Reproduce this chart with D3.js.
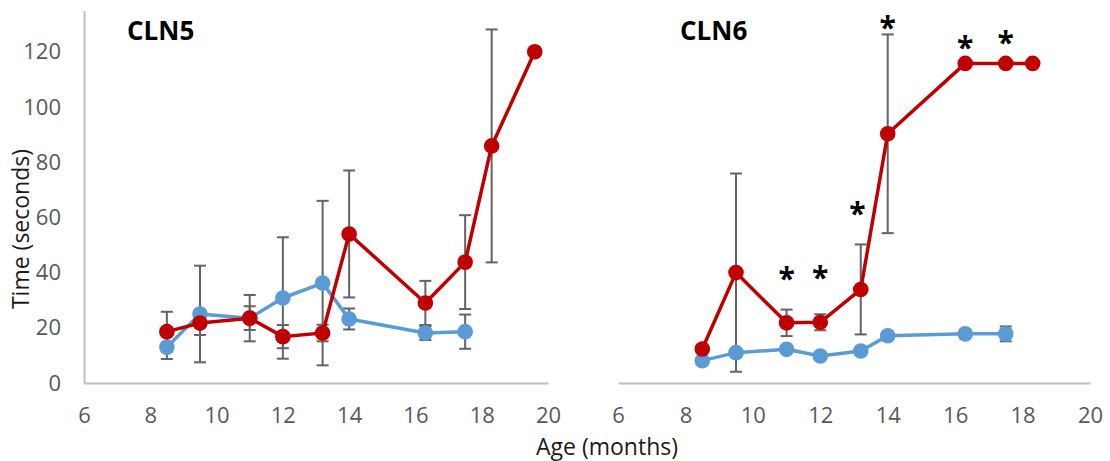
<!DOCTYPE html>
<html>
<head>
<meta charset="utf-8">
<script src="https://cdn.jsdelivr.net/npm/d3@7"></script>
<style>
  html, body { margin: 0; padding: 0; background: #fff; }
  svg { display: block; font-family: "Open Sans", sans-serif; }
</style>
</head>
<body>
<svg id="chart" width="1110" height="461"></svg>
<script>
// ---- data ----
const xTicks = [6, 8, 10, 12, 14, 16, 18, 20];
const yTicks = [0, 20, 40, 60, 80, 100, 120];

const cln5Ages      = [8.5, 9.5, 11, 12, 13.2, 14, 16.3, 17.5, 18.3, 19.6];
const cln5Control   = [13, 25, 23.5, 30.8, 36.2, 23.2, 18.1, 18.6];
const cln5ControlErr= [4.3, 17.5, 8.4, 22, 29.8, 3.8, 2.5, 6.2];
const cln5Affected  = [18.6, 21.7, 23.5, 16.8, 18.1, 54, 29, 43.8, 85.9, 120];
const cln5AffectedErr = [7.2, 4.3, 4.3, 4.2, 3, 23, 8, 17, 42.2, 0];

const cln6Ages      = [8.5, 9.5, 11, 12, 13.2, 14, 16.3, 17.5, 18.3];
const cln6Control   = [8.1, 11, 12.2, 9.8, 11.6, 17.1, 17.8, 17.8];
const cln6ControlErr= [0, 0, 0, 0, 0, 0, 0, 2.7];
const cln6Affected  = [12.3, 40, 21.8, 22, 33.9, 90.3, 115.8, 115.8, 115.8];
const cln6AffectedErr = [0, 35.9, 4.8, 2.9, 16.3, 36, 0, 0, 0];

const cln6StarAges   = [11, 12, 13.1, 14, 16.3, 17.5];
const cln6StarValues = [39.9, 40.2, 63.4, 130.9, 123.4, 125.5];

// ---- styles ----
const BLUE = "#5B9BD5", RED = "#C00000", ERR = "#636363", AXIS = "#BFBFBF", TICK = "#595959";

const svg = d3.select("#chart");
const y = d3.scaleLinear().domain([0, 135]).range([383, 10.4]);

function panel(opts) {
  const x = d3.scaleLinear().domain([6, 20]).range(opts.xRange);
  const g = svg.append("g");

  // x axis
  const xa = g.append("g").attr("transform", `translate(0,${y(0)})`)
    .call(d3.axisBottom(x).tickValues(xTicks).tickSize(0).tickSizeOuter(0).tickPadding(24));
  xa.select(".domain").attr("stroke", AXIS).attr("stroke-width", 2);
  xa.selectAll("text").attr("fill", TICK).style("font-size", "22px").style("font-family", "Open Sans");

  if (opts.yAxis) {
    const ya = g.append("g").attr("transform", `translate(${opts.xRange[0]},0)`)
      .call(d3.axisLeft(y).tickValues(yTicks).tickSize(0).tickSizeOuter(0).tickPadding(23));
    ya.select(".domain").attr("stroke", AXIS).attr("stroke-width", 2);
    ya.selectAll("text").attr("fill", TICK).style("font-size", "22px").style("font-family", "Open Sans");
  }

  const series = [
    { vals: opts.control, err: opts.controlErr, color: BLUE },
    { vals: opts.affected, err: opts.affectedErr, color: RED }
  ].map(s => ({ ...s, pts: s.vals.map((v, i) => ({ a: opts.ages[i], v, e: s.err[i] })) }));

  // error bars (behind markers)
  series.forEach(s => {
    const eb = g.append("g").attr("stroke", ERR).attr("stroke-width", 2).attr("fill", "none");
    s.pts.filter(p => p.e > 0).forEach(p => {
      const cx = x(p.a), y1 = y(p.v + p.e), y2 = y(p.v - p.e);
      eb.append("line").attr("x1", cx).attr("x2", cx).attr("y1", y1).attr("y2", y2);
      eb.append("line").attr("x1", cx - 6).attr("x2", cx + 6).attr("y1", y1).attr("y2", y1);
      eb.append("line").attr("x1", cx - 6).attr("x2", cx + 6).attr("y1", y2).attr("y2", y2);
    });
  });

  // lines and markers
  const line = d3.line().x(p => x(p.a)).y(p => y(p.v));
  series.forEach(s => {
    g.append("path").datum(s.pts).attr("d", line)
      .attr("fill", "none").attr("stroke", s.color).attr("stroke-width", 3.5).attr("stroke-linejoin", "round");
    g.selectAll(null).data(s.pts).enter().append("circle")
      .attr("cx", p => x(p.a)).attr("cy", p => y(p.v)).attr("r", 7.8).attr("fill", s.color);
  });

  // title
  g.append("text").attr("x", opts.titleX).attr("y", 40)
    .style("font-size", "26px").style("font-weight", "bold").attr("fill", "#000").text(opts.title);

  // significance stars
  if (opts.starAges) {
    g.selectAll(null).data(opts.starAges).enter().append("text")
      .attr("x", a => x(a)).attr("y", (a, i) => y(opts.starValues[i]) + 16)
      .attr("text-anchor", "middle").style("font-size", "30px").style("font-weight", "bold")
      .attr("fill", "#000").text("*");
  }
}

panel({ xRange: [84, 548], yAxis: true, title: "CLN5", titleX: 127,
  ages: cln5Ages, control: cln5Control, controlErr: cln5ControlErr,
  affected: cln5Affected, affectedErr: cln5AffectedErr });

panel({ xRange: [618, 1090], yAxis: false, title: "CLN6", titleX: 680,
  ages: cln6Ages, control: cln6Control, controlErr: cln6ControlErr,
  affected: cln6Affected, affectedErr: cln6AffectedErr,
  starAges: cln6StarAges, starValues: cln6StarValues });

// axis titles
svg.append("text").attr("transform", "translate(29,229) rotate(-90)")
  .attr("text-anchor", "middle").style("font-size", "23px").attr("fill", "#1a1a1a").text("Time (seconds)");
svg.append("text").attr("x", 607).attr("y", 455)
  .attr("text-anchor", "middle").style("font-size", "23px").attr("fill", "#1a1a1a").text("Age (months)");
</script>
</body>
</html>
